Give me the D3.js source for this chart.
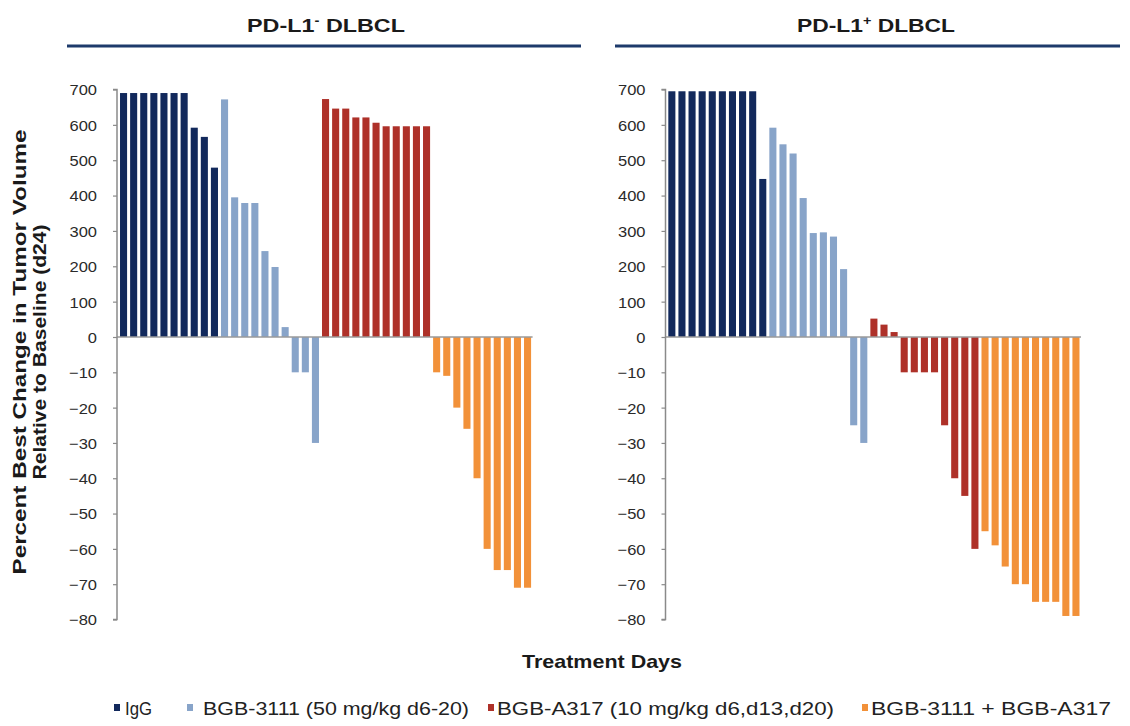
<!DOCTYPE html>
<html>
<head>
<meta charset="utf-8">
<script src="https://cdn.jsdelivr.net/npm/d3@7"></script>
<style>
  html, body { margin: 0; padding: 0; background: #fff; }
  svg { display: block; }
  text { font-family: "Liberation Sans", Arial, Helvetica, sans-serif; }
</style>
</head>
<body>
<svg id="chart" width="1130" height="726"></svg>
<script>
// ---------------- DATA ----------------
const groups = ["IgG", "BGB-3111 (50 mg/kg d6-20)", "BGB-A317 (10 mg/kg d6,d13,d20)", "BGB-3111 + BGB-A317"];
const panelTitles = ["PD-L1", "PD-L1"];
const panelSups = ["-", "+"];

const leftIgG   = [690, 690, 690, 690, 690, 690, 690, 592, 566, 479];
const leftB3111 = [672, 395, 379, 379, 243, 198, 28, -10, -10, -30];
const leftA317  = [673, 646, 646, 621, 621, 606, 596, 596, 596, 596, 596];
const leftCombo = [-10, -11, -20, -26, -40, -60, -66, -66, -71, -71];

const rightIgG   = [695, 695, 695, 695, 695, 695, 695, 695, 695, 447];
const rightB3111 = [592, 545, 519, 393, 294, 296, 284, 192, -25, -30];
const rightA317  = [52, 35, 14, -10, -10, -10, -10, -25, -40, -45, -60];
const rightCombo = [-55, -59, -65, -70, -70, -75, -75, -75, -79, -79];

const yTicks = [700, 600, 500, 400, 300, 200, 100, 0, -10, -20, -30, -40, -50, -60, -70, -80];
const yDomain = [-80, 0, 700];

const yTitle1 = "Percent Best Change in Tumor Volume";
const yTitle2 = "Relative to Baseline (d24)";
const xTitle = "Treatment Days";

// ---------------- STYLE / LAYOUT ----------------
const colors = ["#12295c", "#88a4c9", "#ae3129", "#f29139"];
const svg = d3.select("#chart");

function buildRows(arrs) {
  const rows = [];
  arrs.forEach((arr, g) => arr.forEach(v => rows.push({ g, v })));
  rows.forEach((r, i) => r.i = i);
  return rows;
}

const panels = [
  { rows: buildRows([leftIgG, leftB3111, leftA317, leftCombo]),
    axisX: 117, x0: 118.5, x1: 532.6, titleX: 326, lineX0: 67, lineX1: 581 },
  { rows: buildRows([rightIgG, rightB3111, rightA317, rightCombo]),
    axisX: 665.5, x0: 666.8, x1: 1081, titleX: 876, lineX0: 615, lineX1: 1120 }
];

const y = d3.scaleLinear().domain(yDomain).range([619.5, 337, 89.5]);

function stretch(sel, f) {
  sel.each(function () {
    const len = this.getComputedTextLength();
    d3.select(this).attr("textLength", len * f).attr("lengthAdjust", "spacingAndGlyphs");
  });
}

panels.forEach((p, pi) => {
  const x = d3.scaleBand()
    .domain(p.rows.map(d => d.i))
    .range([p.x0, p.x1])
    .paddingInner(0.3)
    .paddingOuter(0.15);

  const g = svg.append("g");

  // title
  const t = g.append("text")
    .attr("x", p.titleX).attr("y", 32)
    .attr("text-anchor", "middle")
    .attr("font-weight", "bold")
    .attr("font-size", 19)
    .attr("fill", "#1a1a1a");
  t.append("tspan").text(panelTitles[pi]);
  t.append("tspan").attr("font-size", 12).attr("dy", -7).text(panelSups[pi]);
  t.append("tspan").attr("dy", 7).text(" DLBCL");
  t.attr("textLength", 158).attr("lengthAdjust", "spacingAndGlyphs");

  g.append("line")
    .attr("x1", p.lineX0).attr("x2", p.lineX1)
    .attr("y1", 46).attr("y2", 46)
    .attr("stroke", "#1d3a6b").attr("stroke-width", 3);

  // bars
  g.selectAll("rect.bar").data(p.rows).join("rect")
    .attr("class", "bar")
    .attr("x", d => x(d.i))
    .attr("width", x.bandwidth())
    .attr("y", d => Math.min(y(d.v), y(0)))
    .attr("height", d => Math.abs(y(d.v) - y(0)))
    .attr("fill", d => colors[d.g]);

  // zero line
  g.append("line")
    .attr("x1", p.axisX).attr("x2", p.x1)
    .attr("y1", y(0)).attr("y2", y(0))
    .attr("stroke", "#9a9a9a").attr("stroke-width", 1.5);

  // axis
  const ax = g.append("g")
    .attr("transform", `translate(${p.axisX},0)`)
    .call(d3.axisLeft(y).tickValues(yTicks).tickFormat(d3.format("d")).tickSize(4).tickPadding(16));
  ax.select(".domain").attr("stroke", "#8a8a8a").attr("stroke-width", 1.5)
    .attr("d", `M-4,${y(700)}H0V${y(-80)}H-4`);
  ax.selectAll(".tick line").attr("stroke", "#8a8a8a").attr("stroke-width", 1.2);
  ax.selectAll(".tick text")
    .attr("font-size", 15)
    .attr("fill", "#2a2a2a")
    .attr("dy", "0.36em")
    .call(stretch, 1.1);
});

// y axis title
const yt = svg.append("g").attr("transform", "translate(0,352)");
yt.append("text")
  .attr("transform", "translate(26,0) rotate(-90)")
  .attr("text-anchor", "middle")
  .attr("font-weight", "bold").attr("font-size", 19).attr("fill", "#1a1a1a")
  .attr("textLength", 445).attr("lengthAdjust", "spacingAndGlyphs")
  .text(yTitle1);
yt.append("text")
  .attr("transform", "translate(46,0) rotate(-90)")
  .attr("text-anchor", "middle")
  .attr("font-weight", "bold").attr("font-size", 19).attr("fill", "#1a1a1a")
  .attr("textLength", 255).attr("lengthAdjust", "spacingAndGlyphs")
  .text(yTitle2);

// x title
svg.append("text")
  .attr("x", 602).attr("y", 668)
  .attr("text-anchor", "middle")
  .attr("font-weight", "bold").attr("font-size", 19).attr("fill", "#1a1a1a")
  .attr("textLength", 160).attr("lengthAdjust", "spacingAndGlyphs")
  .text(xTitle);

// legend
const legendPos = [
  { sx: 114, tx: 125, w: 27 },
  { sx: 187, tx: 203, w: 266 },
  { sx: 488, tx: 497, w: 337 },
  { sx: 862, tx: 871, w: 240 }
];
const lg = svg.append("g");
groups.forEach((name, i) => {
  const lp = legendPos[i];
  lg.append("rect")
    .attr("x", lp.sx).attr("y", 704).attr("width", 6).attr("height", 7)
    .attr("fill", colors[i]);
  lg.append("text")
    .attr("x", lp.tx).attr("y", 715)
    .attr("font-size", 19).attr("fill", "#222")
    .attr("textLength", lp.w).attr("lengthAdjust", "spacingAndGlyphs")
    .text(name);
});
</script>
</body>
</html>
